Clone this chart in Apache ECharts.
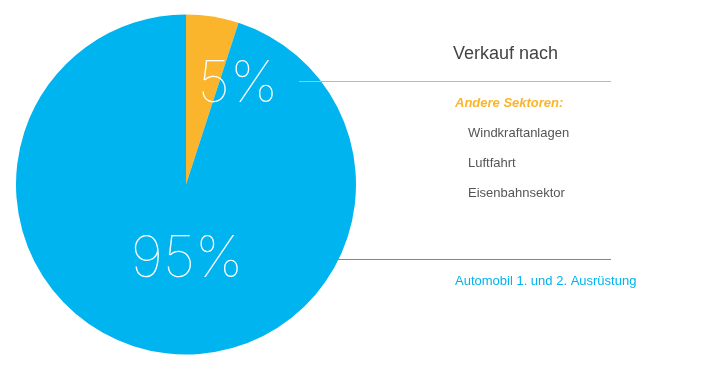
<!DOCTYPE html>
<html>
<head>
<meta charset="utf-8">
<script src="https://cdn.jsdelivr.net/npm/echarts@6/dist/echarts.min.js"></script>
<style>
html,body{margin:0;padding:0;background:#fff;}
#chart{width:725px;height:373px;}
</style>
</head>
<body>
<div id="chart"></div>
<script>
var categories = ['Andere Sektoren', 'Automobil 1. und 2. Ausrüstung'];
var values = [5, 95];
var colors = ['#FBB52C', '#00B4F0'];
var headline = 'Verkauf nach';
var otherHeading = 'Andere Sektoren:';
var otherItems = ['Windkraftanlagen', 'Luftfahrt', 'Eisenbahnsektor'];
var autoLabel = 'Automobil 1. und 2. Ausrüstung';

var labelPos = [[238, 85], [187, 260]];

var chart = echarts.init(document.getElementById('chart'), null, {renderer: 'canvas'});

var textFont = '"Liberation Sans", Arial, sans-serif';
var graphics = [
  {type: 'line', shape: {x1: 299, y1: 81.5, x2: 611, y2: 81.5}, style: {stroke: colors[0], lineWidth: 1}, z: 10},
  {type: 'line', shape: {x1: 338, y1: 259.5, x2: 611, y2: 259.5}, style: {stroke: colors[1], lineWidth: 1}, z: 10},
  {type: 'text', x: 453, y: 54, style: {text: headline, fill: '#444444', font: '18px ' + textFont, textVerticalAlign: 'middle'}},
  {type: 'text', x: 455, y: 103, style: {text: otherHeading, fill: colors[0], font: 'italic bold 13px ' + textFont, textVerticalAlign: 'middle'}}
];
otherItems.forEach(function (t, i) {
  graphics.push({type: 'text', x: 468, y: 133 + i * 30, style: {text: t, fill: '#555555', font: '13px ' + textFont, textVerticalAlign: 'middle'}});
});
graphics.push({type: 'text', x: 455, y: 281, style: {text: autoLabel, fill: colors[1], font: '13px ' + textFont, textVerticalAlign: 'middle'}});

chart.setOption({
  animation: false,
  color: colors,
  series: [{
    type: 'pie',
    center: [186, 184.5],
    radius: [0, 170],
    startAngle: 90,
    clockwise: true,
    silent: true,
    emphasis: {disabled: true},
    itemStyle: {borderWidth: 0},
    label: {
      show: true,
      position: 'inside',
      formatter: '{c}%',
      color: '#ffffff',
      fontFamily: 'Inter',
      fontStyle: 'normal',
      fontWeight: 100,
      fontSize: 57
    },
    labelLine: {show: false},
    labelLayout: function (p) {
      return {x: labelPos[p.dataIndex][0], y: labelPos[p.dataIndex][1], align: 'center', verticalAlign: 'middle'};
    },
    data: categories.map(function (c, i) { return {name: c, value: values[i]}; })
  }],
  graphic: graphics
});
</script>
</body>
</html>
